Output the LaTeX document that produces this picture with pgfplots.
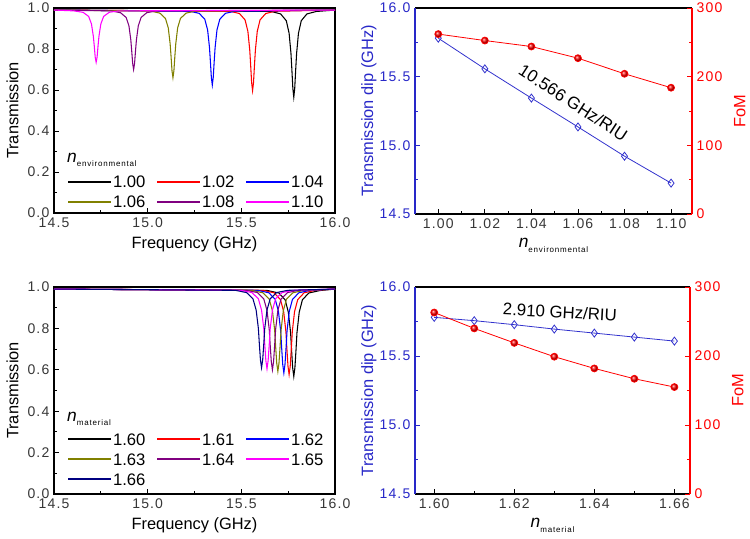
\documentclass[border=0pt]{standalone}
\usepackage{pgfplots}
\pgfplotsset{compat=1.18}
\usepackage{fontspec}
\setmainfont{Liberation Sans}
\newfontfamily\tickfont[LetterSpace=8]{Liberation Sans}
\newfontfamily\subfont[LetterSpace=10]{Liberation Sans}

\definecolor{cred}{RGB}{255,0,0}
\definecolor{cblue}{RGB}{0,0,255}
\definecolor{colive}{RGB}{128,128,0}
\definecolor{cpurple}{RGB}{128,0,128}
\definecolor{cmag}{RGB}{255,0,255}
\definecolor{cnavy}{RGB}{0,0,128}
\definecolor{dipblue}{RGB}{50,50,205}
\definecolor{axblue}{RGB}{40,40,200}
\definecolor{ticktext}{RGB}{55,55,55}

\newcommand{\nlabel}[1]{{\fontsize{13}{14}\selectfont\itshape n}\raisebox{-0.6ex}{\subfont\fontsize{6}{7}\selectfont #1}}

\pgfplotsset{
  onedec/.style={/pgf/number format/fixed,/pgf/number format/fixed zerofill,/pgf/number format/precision=1},
  twodec/.style={/pgf/number format/fixed,/pgf/number format/fixed zerofill,/pgf/number format/precision=2},
  base/.style={
    scale only axis,
    tick align=inside,
    major tick length=3.5pt, minor tick length=2pt,
    every tick/.style={line width=0.6pt},
    axis line style={line width=0.8pt},
    tick label style={font=\tickfont\fontsize{10.5}{12}\selectfont, text=ticktext},
    label style={font=\fontsize{12.3}{14}\selectfont},
    /pgf/number format/assume math mode=true,
  },
  panel/.style={base, xtick pos=left, ytick pos=left},
  spectrum/.style={
    panel,
    xmin=14.5, xmax=16, ymin=0, ymax=1,
    xtick={14.5,15,15.5,16}, minor x tick num=1,
    ytick={0,0.2,0.4,0.6,0.8,1}, minor y tick num=1,
    xticklabel style={onedec}, yticklabel style={onedec},
    xlabel={Frequency (GHz)}, ylabel={Transmission},
    legend columns=3, legend cell align=left,
    legend image code/.code={\draw[##1,line width=1.4pt] (0pt,0pt) -- (32pt,0pt);},
    legend style={draw=none, fill=none, anchor=north west, inner sep=0pt,
      row sep=4pt, nodes={inner sep=1pt, text height=9pt, text depth=0pt},
      font=\fontsize{12.5}{14}\selectfont,
      /tikz/every even column/.append style={column sep=7pt}},
  },
  spec/.style={line width=0.8pt, no markers},
  dipaxis/.style={
    panel, separate axis lines,
    ymin=14.5, ymax=16, ytick={14.5,15,15.5,16}, minor y tick num=1,
    yticklabel style={onedec, text=axblue},
    y axis line style={axblue}, ytick style={axblue},
    ylabel={Transmission dip (GHz)}, ylabel style={text=axblue},
    ylabel shift=-4.5pt,
  },
  fomaxis/.style={
    base, axis x line=none, axis y line*=right,
    ytick pos=right, yticklabel pos=right,
    ymin=0, ymax=300, ytick={0,100,200,300}, minor y tick num=1,
    y axis line style={cred}, ytick style={cred},
    yticklabel style={text=cred},
    ylabel={FoM}, ylabel style={text=cred}, ylabel shift=2pt,
  },
  dipline/.style={dipblue, line width=0.6pt, mark=diamond, mark size=3pt,
    mark options={fill=white, solid, line width=0.6pt}},
  fomline/.style={cred, line width=0.6pt, mark=ball, mark size=2.6pt,
    mark options={ball color=cred}},
}

\begin{document}
\begin{tikzpicture}
\useasboundingbox (0,0) rectangle (562.5pt,404.25pt);

% top left: spectra vs environmental index
\begin{axis}[spectrum, at={(40.5pt,244.5pt)}, anchor=south west,
  width=210.75pt, height=153.75pt,
  legend style={at={(0.046,0.19)}}]
\addplot[spec, black] coordinates {(14.5,0.99)(15.66,0.983)(15.71,0.971)(15.74,0.938)(15.755,0.877)(15.765,0.778)(15.77,0.696)(15.775,0.608)(15.78,0.565)(15.785,0.608)(15.79,0.696)(15.795,0.778)(15.805,0.877)(15.82,0.938)(15.85,0.971)(15.90,0.983)(16.0,0.99)};
\addlegendentry{1.00}
\addplot[spec, cred] coordinates {(14.5,0.99)(15.44,0.984)(15.49,0.973)(15.52,0.942)(15.535,0.886)(15.545,0.794)(15.55,0.718)(15.555,0.636)(15.56,0.597)(15.565,0.636)(15.57,0.718)(15.575,0.794)(15.585,0.886)(15.60,0.942)(15.63,0.973)(15.68,0.984)(16.0,0.99)};
\addlegendentry{1.02}
\addplot[spec, cblue] coordinates {(14.5,0.99)(15.225,0.984)(15.275,0.974)(15.305,0.945)(15.32,0.893)(15.33,0.807)(15.335,0.737)(15.34,0.661)(15.345,0.624)(15.35,0.661)(15.355,0.737)(15.36,0.807)(15.37,0.893)(15.385,0.945)(15.415,0.974)(15.465,0.984)(16.0,0.99)};
\addlegendentry{1.04}
\addplot[spec, colive] coordinates {(14.5,0.99)(15.015,0.985)(15.065,0.975)(15.095,0.949)(15.11,0.903)(15.12,0.825)(15.125,0.762)(15.13,0.693)(15.135,0.66)(15.14,0.693)(15.145,0.762)(15.15,0.825)(15.16,0.903)(15.175,0.949)(15.205,0.975)(15.255,0.985)(16.0,0.99)};
\addlegendentry{1.06}
\addplot[spec, cpurple] coordinates {(14.5,0.99)(14.805,0.986)(14.855,0.977)(14.885,0.954)(14.90,0.913)(14.91,0.845)(14.915,0.789)(14.92,0.729)(14.925,0.70)(14.93,0.729)(14.935,0.789)(14.94,0.845)(14.95,0.913)(14.965,0.954)(14.995,0.977)(15.045,0.986)(16.0,0.99)};
\addlegendentry{1.08}
\addplot[spec, cmag] coordinates {(14.5,0.99)(14.605,0.986)(14.655,0.979)(14.685,0.959)(14.70,0.922)(14.71,0.862)(14.715,0.814)(14.72,0.76)(14.725,0.735)(14.73,0.76)(14.735,0.814)(14.74,0.862)(14.75,0.922)(14.765,0.959)(14.795,0.979)(14.845,0.986)(16.0,0.99)};
\addlegendentry{1.10}
\node[anchor=base west, inner sep=0pt] at (axis description cs:0.046,0.245) {\nlabel{environmental}};
\end{axis}

% bottom left: spectra vs material index
\begin{axis}[spectrum, at={(40.5pt,33.75pt)}, anchor=south west,
  width=210.75pt, height=155.25pt,
  legend style={at={(0.046,0.302)}}]
\addplot[spec, black] coordinates {(14.5,0.99)(15.64,0.983)(15.70,0.971)(15.734,0.938)(15.751,0.878)(15.763,0.779)(15.768,0.698)(15.774,0.61)(15.78,0.568)(15.786,0.61)(15.792,0.698)(15.797,0.779)(15.809,0.878)(15.826,0.938)(15.86,0.971)(15.92,0.983)(16.0,0.99)};
\addlegendentry{1.60}
\addplot[spec, cred] coordinates {(14.5,0.99)(15.615,0.984)(15.675,0.972)(15.709,0.939)(15.726,0.881)(15.738,0.784)(15.743,0.704)(15.749,0.618)(15.755,0.577)(15.761,0.618)(15.767,0.704)(15.772,0.784)(15.784,0.881)(15.801,0.939)(15.835,0.972)(15.895,0.984)(16.0,0.99)};
\addlegendentry{1.61}
\addplot[spec, cblue] coordinates {(14.5,0.99)(15.587,0.984)(15.647,0.972)(15.681,0.94)(15.698,0.883)(15.71,0.788)(15.715,0.71)(15.721,0.626)(15.727,0.585)(15.733,0.626)(15.739,0.71)(15.744,0.788)(15.756,0.883)(15.773,0.94)(15.807,0.972)(15.867,0.984)(16.0,0.99)};
\addlegendentry{1.62}
\addplot[spec, colive] coordinates {(14.5,0.99)(15.555,0.984)(15.615,0.972)(15.649,0.941)(15.666,0.885)(15.678,0.791)(15.683,0.715)(15.689,0.632)(15.695,0.592)(15.701,0.632)(15.707,0.715)(15.712,0.791)(15.724,0.885)(15.741,0.941)(15.775,0.972)(15.835,0.984)(16.0,0.99)};
\addlegendentry{1.63}
\addplot[spec, cpurple] coordinates {(14.5,0.99)(15.526,0.984)(15.586,0.973)(15.62,0.942)(15.637,0.887)(15.649,0.795)(15.654,0.72)(15.66,0.639)(15.666,0.60)(15.672,0.639)(15.678,0.72)(15.683,0.795)(15.695,0.887)(15.712,0.942)(15.746,0.973)(15.806,0.984)(16.0,0.99)};
\addlegendentry{1.64}
\addplot[spec, cmag] coordinates {(14.5,0.99)(15.497,0.984)(15.557,0.973)(15.591,0.943)(15.608,0.888)(15.62,0.798)(15.625,0.724)(15.631,0.644)(15.637,0.605)(15.643,0.644)(15.649,0.724)(15.654,0.798)(15.666,0.888)(15.683,0.943)(15.717,0.973)(15.777,0.984)(16.0,0.99)};
\addlegendentry{1.65}
\addplot[spec, cnavy] coordinates {(14.5,0.99)(15.468,0.984)(15.528,0.973)(15.562,0.943)(15.579,0.889)(15.591,0.80)(15.596,0.727)(15.602,0.648)(15.608,0.61)(15.614,0.648)(15.62,0.727)(15.625,0.80)(15.637,0.889)(15.654,0.943)(15.688,0.973)(15.748,0.984)(16.0,0.99)};
\addlegendentry{1.66}
\node[anchor=base west, inner sep=0pt] at (axis description cs:0.046,0.349) {\nlabel{material}};
\end{axis}

% top right: dip and FoM vs environmental index
\begin{axis}[dipaxis, at={(311.25pt,243.75pt)}, anchor=south west,
  width=207.75pt, height=154.5pt,
  xmin=0.990, xmax=1.109,
  xtick={1.00,1.02,1.04,1.06,1.08,1.10}, minor x tick num=1,
  xticklabel style={twodec},
  xlabel={\nlabel{environmental}}]
\addplot[dipline] coordinates {(1.00,15.780)(1.02,15.557)(1.04,15.344)(1.06,15.134)(1.08,14.921)(1.10,14.725)};
\node[rotate=-33, font=\fontsize{12.8}{14}\selectfont] at (axis cs:1.0580,15.31) {10.566 GHz/RIU};
\end{axis}
\begin{axis}[fomaxis, at={(311.25pt,243.75pt)}, anchor=south west,
  width=207.75pt, height=154.5pt,
  xmin=0.990, xmax=1.109]
\addplot[fomline] coordinates {(1.00,262)(1.02,252.6)(1.04,243.9)(1.06,226.9)(1.08,204.2)(1.10,183.9)};
\end{axis}

% bottom right: dip and FoM vs material index
\begin{axis}[dipaxis, at={(311.25pt,33.75pt)}, anchor=south west,
  width=206.25pt, height=155.25pt,
  xmin=1.5952, xmax=1.6639,
  xtick={1.60,1.62,1.64,1.66}, minor x tick num=1,
  xticklabel style={twodec},
  xlabel={\nlabel{material}}]
\addplot[dipline] coordinates {(1.60,15.780)(1.61,15.756)(1.62,15.727)(1.63,15.695)(1.64,15.666)(1.65,15.637)(1.66,15.608)};
\node[rotate=-3, font=\fontsize{12.6}{14}\selectfont] at (axis cs:1.6314,15.819) {2.910 GHz/RIU};
\end{axis}
\begin{axis}[fomaxis, at={(311.25pt,33.75pt)}, anchor=south west,
  width=206.25pt, height=155.25pt,
  xmin=1.5952, xmax=1.6639]
\addplot[fomline] coordinates {(1.60,263)(1.61,240)(1.62,219)(1.63,199)(1.64,182)(1.65,167)(1.66,155)};
\end{axis}
\end{tikzpicture}
\end{document}
